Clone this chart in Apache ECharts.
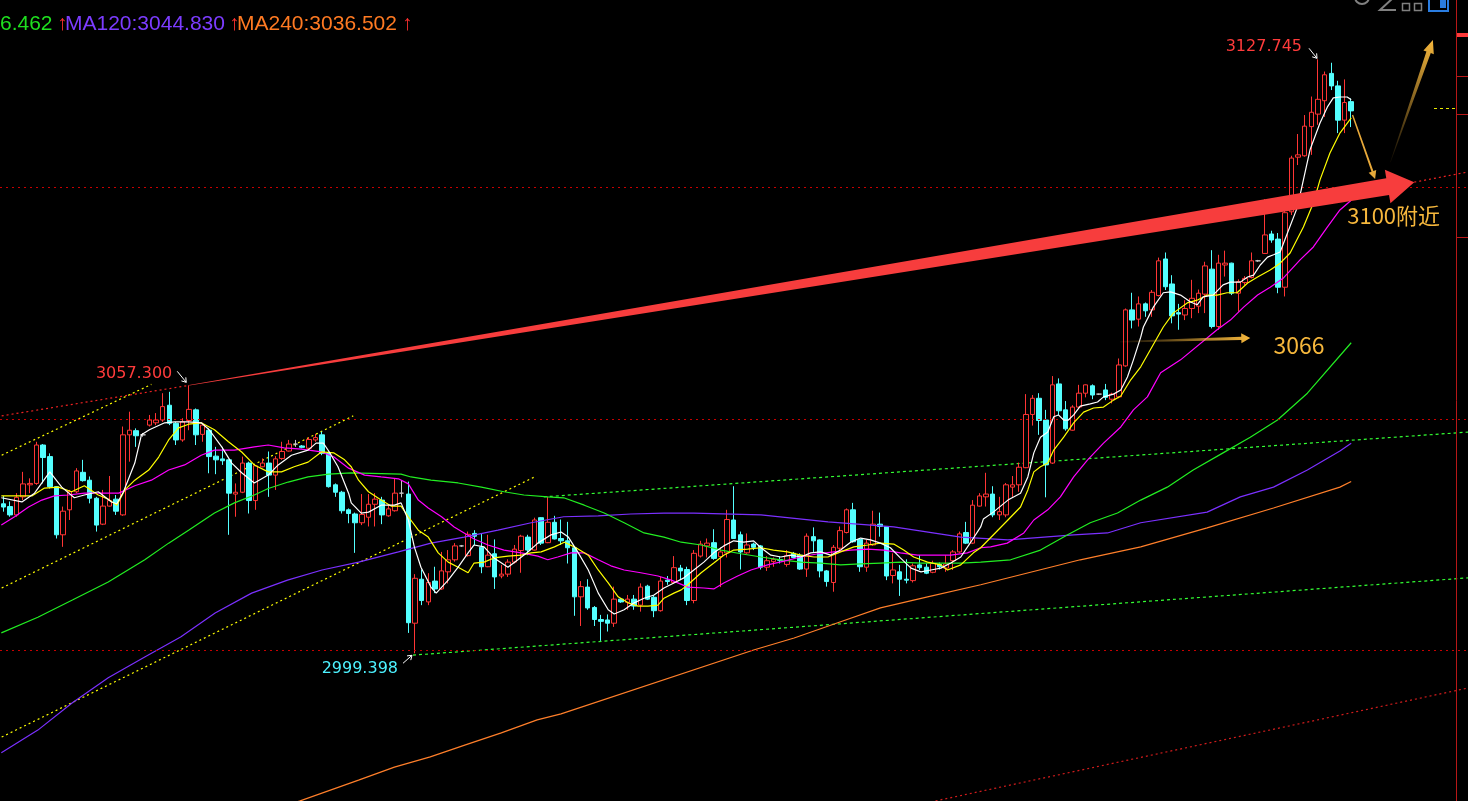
<!DOCTYPE html>
<html><head><meta charset="utf-8">
<script src="https://cdn.jsdelivr.net/npm/echarts@6/dist/echarts.min.js"></script>
<style>html,body{margin:0;padding:0;background:#000;overflow:hidden}#c{width:1468px;height:801px}</style>
</head><body><div id="c"></div>
<script>
// ---------- DATA ----------
const slotCount = 221; // candle slots on the axis (last ones empty)
const categories = Array.from({length: slotCount}, (_, k) => 'K' + (k + 1));
// [open, close, low, high]
const candles = [
[3031.7,3031.0,3030.0,3033.4],[3031.1,3029.3,3028.9,3032.2],[3029.3,3033.1,3028.9,3034.0],[3033.2,3036.0,3032.5,3038.6],[3035.8,3036.1,3034.0,3037.2],
[3036.1,3044.4,3035.8,3045.1],[3044.4,3041.7,3036.1,3044.6],[3041.9,3035.4,3035.0,3042.6],[3035.4,3025.0,3024.2,3035.5],[3025.0,3030.1,3022.4,3031.1],
[3030.4,3034.3,3028.2,3034.7],[3034.3,3038.8,3034.0,3039.4],[3038.5,3036.7,3036.5,3041.2],[3036.8,3032.9,3031.8,3037.6],[3032.9,3027.1,3025.7,3033.2],
[3027.3,3031.2,3027.1,3034.7],[3031.2,3032.4,3031.1,3037.7],[3032.7,3030.1,3029.3,3033.6],[3029.3,3046.6,3029.1,3048.4],[3046.6,3047.6,3040.8,3051.6],
[3047.5,3046.4,3044.0,3048.0],[3046.6,3046.6,3046.2,3047.0],[3048.7,3049.8,3048.4,3050.9],[3049.2,3049.8,3048.7,3051.3],[3049.8,3052.7,3049.4,3055.6],
[3053.0,3049.1,3048.7,3055.9],[3049.1,3045.5,3044.4,3049.4],[3045.5,3049.4,3045.1,3050.2],[3049.7,3052.1,3047.6,3057.3],[3052.0,3046.6,3044.4,3052.3],
[3046.7,3048.7,3045.1,3049.2],[3047.6,3041.9,3038.3,3048.0],[3042.0,3041.2,3038.1,3044.0],[3041.4,3041.0,3040.1,3044.0],[3041.2,3034.0,3025.0,3041.3],
[3033.8,3034.2,3028.9,3036.1],[3034.2,3040.5,3034.0,3041.9],[3040.5,3032.4,3029.6,3040.8],[3032.4,3039.9,3030.4,3040.1],[3039.7,3040.5,3039.6,3041.5],
[3040.5,3037.9,3033.2,3043.0],[3037.9,3041.4,3034.7,3042.0],[3041.5,3043.0,3041.2,3045.1],[3043.1,3044.6,3043.0,3045.5],[3044.6,3044.6,3044.0,3045.5],
[3044.2,3043.9,3043.7,3044.4],[3043.7,3045.6,3043.3,3046.1],[3045.5,3046.0,3045.1,3046.8],[3046.6,3042.6,3042.2,3047.3],[3042.6,3035.4,3035.2,3043.0],
[3035.8,3034.2,3033.2,3036.1],[3034.2,3030.2,3029.6,3034.5],[3030.4,3029.6,3027.5,3030.7],[3029.5,3027.6,3021.1,3029.8],[3027.6,3029.4,3027.1,3033.8],
[3028.8,3031.6,3026.8,3033.8],[3031.6,3032.7,3026.8,3034.0],[3032.5,3029.3,3027.3,3033.2],[3029.1,3030.6,3028.9,3031.4],[3030.2,3034.0,3030.0,3037.2],
[3034.0,3034.0,3033.1,3036.8],[3033.8,3006.0,3003.8,3036.5],[3005.9,3015.6,2999.398,3016.5],[3015.4,3010.8,3009.8,3017.5],[3010.5,3014.7,3009.8,3016.7],
[3015.0,3013.3,3012.4,3018.1],[3013.3,3017.2,3013.1,3021.3],[3017.0,3019.6,3014.5,3021.7],[3019.6,3022.6,3019.2,3023.2],[3022.6,3022.6,3022.4,3022.8],
[3020.5,3025.1,3020.3,3025.7],[3025.3,3024.7,3022.8,3026.0],[3022.3,3018.1,3016.7,3025.2],[3018.1,3020.6,3018.0,3025.0],[3020.9,3015.9,3013.3,3024.0],
[3016.1,3016.5,3015.6,3018.5],[3016.5,3019.1,3015.9,3019.7],[3019.1,3021.9,3018.8,3022.8],[3021.6,3024.7,3016.8,3025.0],[3024.5,3021.7,3020.6,3025.0],
[3021.7,3028.2,3021.6,3028.7],[3028.7,3023.2,3022.8,3028.8],[3023.3,3027.7,3023.2,3033.2],[3027.7,3024.1,3024.0,3029.1],[3024.2,3023.7,3022.8,3028.3],
[3023.7,3022.2,3018.8,3027.8],[3022.2,3011.6,3007.5,3022.4],[3011.6,3013.8,3005.3,3015.0],[3013.7,3009.2,3008.8,3015.4],[3009.3,3006.7,3005.3,3009.6],
[3006.7,3006.3,3002.1,3007.7],[3006.6,3005.9,3004.1,3007.8],[3005.9,3011.1,3005.1,3013.8],[3011.1,3010.5,3010.3,3011.3],[3010.4,3011.1,3008.8,3012.0],
[3011.1,3009.6,3008.8,3012.0],[3009.8,3013.7,3008.4,3014.5],[3013.9,3011.1,3010.9,3014.2],[3011.5,3008.6,3007.2,3012.0],[3008.6,3015.0,3008.4,3015.9],
[3015.2,3014.9,3014.2,3016.1],[3014.7,3017.9,3014.5,3020.4],[3017.8,3017.2,3015.2,3018.5],[3017.5,3010.8,3009.8,3018.1],[3010.8,3021.0,3010.2,3021.7],
[3020.4,3023.0,3020.1,3023.7],[3022.6,3023.2,3020.1,3024.2],[3023.3,3019.9,3019.6,3026.2],[3020.3,3021.3,3013.7,3022.3],[3021.1,3028.3,3020.1,3030.4],
[3028.2,3024.2,3024.1,3035.5],[3025.0,3021.3,3017.5,3025.7],[3021.1,3022.8,3020.9,3025.3],[3023.0,3022.3,3021.7,3023.3],[3022.6,3018.0,3017.5,3022.8],
[3018.0,3019.4,3017.2,3020.4],[3019.2,3019.7,3018.1,3020.1],[3019.6,3019.5,3018.8,3020.3],[3018.6,3020.5,3018.1,3021.7],[3021.0,3020.1,3019.9,3021.3],
[3020.6,3017.6,3017.4,3021.0],[3017.6,3024.7,3015.9,3025.3],[3024.6,3023.7,3021.3,3026.6],[3023.9,3017.2,3015.8,3024.0],[3017.2,3014.9,3013.8,3017.4],
[3014.7,3022.3,3012.7,3022.8],[3022.1,3025.9,3021.7,3026.8],[3025.5,3030.4,3025.3,3030.7],[3030.4,3023.5,3023.3,3031.9],[3024.0,3018.1,3017.0,3024.2],
[3018.0,3023.2,3017.0,3023.9],[3022.8,3027.3,3022.6,3030.2],[3027.3,3026.8,3024.6,3029.8],[3026.8,3016.1,3015.2,3026.9],[3016.2,3017.4,3014.5,3021.0],
[3017.0,3015.4,3011.8,3018.5],[3015.4,3015.2,3014.5,3019.7],[3015.1,3018.3,3014.7,3018.8],[3018.5,3017.9,3017.4,3020.6],[3018.0,3016.7,3016.5,3018.8],
[3016.9,3018.8,3016.7,3019.4],[3018.6,3018.1,3017.5,3019.0],[3017.8,3018.7,3017.0,3020.6],[3019.4,3021.3,3017.4,3021.7],[3021.3,3025.2,3021.1,3025.7],
[3025.5,3023.2,3023.0,3027.8],[3023.2,3031.4,3023.0,3032.5],[3031.2,3033.4,3031.1,3034.0],[3033.2,3033.8,3031.1,3038.4],[3033.8,3029.3,3028.8,3035.5],
[3029.3,3030.0,3028.2,3033.2],[3029.3,3035.8,3028.8,3036.2],[3035.3,3035.8,3033.2,3037.7],[3035.8,3039.6,3034.3,3040.6],[3039.5,3051.0,3039.4,3055.4],
[3051.0,3054.5,3048.6,3055.2],[3054.5,3049.7,3046.6,3055.6],[3049.8,3040.1,3033.1,3052.0],[3040.5,3057.4,3040.3,3059.3],[3057.6,3051.8,3050.9,3058.8],
[3052.0,3047.9,3047.5,3053.9],[3047.6,3052.6,3047.5,3053.0],[3052.6,3055.6,3052.3,3057.4],[3055.6,3057.4,3054.7,3057.5],[3057.2,3055.2,3054.3,3057.5],
[3055.4,3055.4,3055.2,3055.5],[3056.3,3054.7,3054.1,3057.6],[3054.3,3055.4,3053.4,3055.7],[3054.8,3061.7,3054.5,3063.1],[3061.5,3073.6,3061.3,3073.9],
[3073.6,3071.4,3069.6,3077.3],[3071.6,3074.9,3070.0,3076.5],[3074.9,3073.4,3072.1,3075.2],[3073.6,3077.4,3072.1,3077.9],[3076.7,3084.2,3076.5,3084.9],
[3084.6,3078.6,3077.9,3086.0],[3079.2,3072.3,3070.7,3081.1],[3073.0,3072.7,3069.3,3074.9],[3072.5,3073.9,3071.4,3075.7],[3073.9,3076.1,3071.8,3080.1],
[3074.4,3077.2,3072.9,3078.0],[3077.0,3083.1,3072.9,3084.0],[3082.4,3070.0,3069.6,3086.5],[3070.0,3083.7,3069.3,3085.5],[3083.3,3083.7,3080.8,3086.4],
[3083.7,3077.2,3076.8,3083.8],[3077.2,3079.7,3073.2,3080.2],[3079.5,3080.4,3079.0,3080.9],[3080.6,3084.2,3080.4,3086.0],[3084.2,3084.2,3084.0,3084.4],
[3085.8,3089.8,3085.7,3097.5],[3090.0,3088.7,3088.1,3090.7],[3088.9,3078.5,3077.2,3090.2],[3078.5,3094.6,3076.5,3097.3],[3094.8,3106.4,3094.1,3106.9],
[3106.6,3107.1,3104.9,3111.6],[3106.9,3113.3,3106.7,3115.7],[3113.2,3116.3,3107.1,3119.7],[3115.9,3119.1,3113.6,3127.745],[3118.8,3124.4,3115.3,3125.1],
[3124.7,3122.0,3121.1,3127.0],[3122.0,3114.6,3111.8,3123.1],[3114.6,3118.4,3111.8,3123.4],[3118.6,3116.6,3113.1,3119.3]
];
// moving-average lines: [slot index, value]
const ma5 = [[-0.3,3033.0],[2.8,3032.1],[4.7,3034.0],[7.0,3038.6],[8.8,3035.3],[10.7,3033.0],[12.2,3033.6],[14.3,3034.3],[16.3,3032.1],[17.1,3031.7],[18.1,3034.3],[19.8,3040.5],[20.8,3046.6],[22.0,3047.7],[24.3,3049.2],[25.8,3049.4],[27.9,3049.4],[29.8,3049.2],[31.0,3047.7],[32.9,3044.0],[34.4,3040.5],[35.9,3038.4],[37.8,3036.2],[39.9,3037.9],[41.4,3040.1],[43.4,3042.2],[45.9,3043.3],[47.1,3044.8],[48.2,3044.8],[49.1,3042.9],[50.4,3039.7],[52.0,3034.0],[52.4,3031.9],[53.9,3029.7],[55.0,3029.9],[56.9,3031.4],[58.9,3031.4],[59.9,3031.9],[61.0,3028.2],[61.9,3022.4],[62.9,3018.0],[64.4,3013.7],[65.2,3012.4],[67.0,3015.2],[68.5,3018.0],[70.0,3021.1],[70.9,3022.8],[72.4,3022.4],[73.9,3020.0],[76.0,3018.0],[77.5,3019.6],[79.0,3021.3],[80.5,3023.2],[82.5,3025.0],[84.0,3025.6],[85.1,3024.5],[86.6,3021.1],[88.1,3017.4],[89.6,3012.4],[91.1,3008.8],[92.0,3007.9],[93.5,3008.8],[95.0,3010.3],[96.5,3011.3],[98.0,3012.0],[99.5,3013.5],[101.0,3014.6],[102.5,3015.7],[104.0,3017.4],[105.5,3019.1],[107.0,3021.1],[108.5,3022.6],[110.0,3023.7],[111.5,3023.4],[113.0,3023.7],[114.1,3022.2],[115.6,3020.6],[117.1,3020.2],[118.6,3020.6],[120.1,3020.2],[121.6,3021.1],[123.1,3021.3],[124.6,3020.6],[126.1,3021.7],[127.6,3023.4],[129.1,3024.3],[130.6,3023.9],[132.1,3023.2],[133.6,3022.2],[135.1,3020.0],[136.7,3017.8],[138.2,3017.0],[139.7,3017.4],[141.2,3017.8],[142.7,3018.9],[144.2,3020.2],[145.7,3023.4],[147.2,3026.7],[147.6,3028.4],[149.1,3029.9],[151.3,3032.5],[153.2,3034.0],[154.3,3037.5],[155.2,3042.7],[156.2,3046.1],[157.3,3047.2],[158.2,3050.5],[158.9,3050.9],[159.7,3049.8],[160.4,3049.8],[161.2,3050.9],[162.2,3052.8],[163.7,3053.3],[164.8,3053.7],[165.7,3054.8],[167.2,3055.4],[168.3,3056.3],[169.3,3059.1],[170.2,3062.8],[171.3,3067.7],[171.7,3069.9],[173.2,3074.2],[174.7,3077.3],[175.8,3077.5],[177.3,3076.8],[178.8,3075.3],[179.8,3074.7],[180.7,3076.4],[182.2,3076.8],[183.7,3079.0],[184.8,3079.6],[186.3,3079.6],[187.4,3080.7],[188.3,3081.1],[189.3,3083.3],[190.4,3085.0],[191.3,3085.5],[192.3,3086.1],[193.4,3090.2],[194.9,3095.8],[195.8,3101.7],[196.8,3108.2],[198.3,3114.0],[199.4,3117.4],[200.3,3119.4],[201.3,3119.6],[202.4,3119.6],[203.0,3119.0]];
const ma10 = [[-0.3,3033.4],[4.3,3033.4],[6.2,3035.1],[8.3,3035.3],[10.3,3034.3],[12.2,3035.6],[14.3,3033.6],[15.8,3032.7],[17.1,3031.4],[18.3,3034.7],[19.8,3036.8],[21.9,3039.0],[23.4,3041.8],[24.9,3045.5],[26.4,3048.1],[27.9,3048.9],[29.8,3049.2],[31.8,3047.7],[33.9,3045.1],[35.9,3042.9],[37.8,3040.1],[39.9,3038.6],[41.9,3038.6],[43.8,3039.7],[45.9,3040.7],[47.9,3042.9],[49.8,3042.7],[51.4,3041.2],[52.4,3039.7],[53.5,3036.8],[55.0,3034.3],[56.9,3032.5],[58.4,3031.2],[59.9,3031.2],[61.0,3028.9],[62.5,3026.0],[64.0,3024.5],[65.5,3021.1],[67.0,3019.1],[68.5,3018.0],[70.0,3016.8],[70.9,3018.9],[72.4,3019.1],[73.9,3020.0],[76.0,3020.4],[78.0,3020.6],[79.5,3021.1],[81.0,3021.3],[83.0,3022.4],[84.5,3023.4],[86.0,3022.4],[88.1,3020.6],[89.6,3017.4],[91.1,3014.6],[92.6,3011.6],[94.1,3010.3],[95.6,3009.6],[97.1,3009.6],[98.6,3009.8],[99.5,3011.3],[101.0,3012.4],[102.1,3013.1],[103.1,3014.2],[105.1,3016.8],[107.0,3018.9],[108.5,3020.6],[110.0,3021.7],[112.1,3021.9],[114.1,3022.2],[116.0,3021.7],[118.1,3021.3],[120.1,3020.6],[122.1,3020.2],[124.2,3020.2],[126.1,3021.3],[128.1,3022.4],[130.2,3022.8],[132.1,3023.2],[134.1,3023.0],[135.6,3021.7],[137.1,3020.2],[139.2,3019.1],[141.2,3018.5],[142.2,3017.4],[144.2,3018.5],[146.1,3021.1],[147.2,3022.2],[151.3,3028.2],[153.2,3031.0],[154.3,3034.7],[155.2,3038.6],[156.2,3039.7],[157.3,3040.5],[158.2,3043.3],[159.7,3046.1],[161.2,3049.2],[162.7,3051.5],[164.2,3052.4],[165.7,3052.6],[167.2,3054.1],[168.3,3055.0],[169.8,3058.5],[171.3,3061.3],[174.7,3069.9],[176.2,3072.9],[178.3,3075.1],[179.8,3075.7],[181.3,3076.8],[182.8,3076.8],[184.3,3077.3],[185.8,3077.3],[187.4,3079.4],[188.9,3080.7],[190.8,3082.2],[192.3,3083.7],[193.8,3085.9],[195.8,3091.5],[197.3,3096.7],[198.3,3101.7],[199.8,3107.5],[201.3,3111.8],[203.0,3115.1]];
const ma20 = [[-0.3,3027.1],[1.7,3028.9],[3.8,3031.0],[5.8,3032.5],[7.7,3033.4],[9.8,3033.6],[12.2,3034.0],[14.8,3034.0],[17.4,3034.0],[19.8,3035.6],[22.3,3036.8],[24.9,3039.0],[27.3,3040.1],[29.8,3042.2],[31.8,3043.3],[34.8,3043.3],[37.8,3044.0],[39.9,3044.4],[42.3,3043.8],[44.9,3043.5],[47.9,3042.9],[49.8,3041.8],[52.0,3039.4],[54.4,3037.9],[56.9,3037.5],[59.5,3037.1],[61.0,3036.0],[62.5,3032.5],[64.0,3030.8],[66.0,3028.9],[67.9,3026.7],[69.4,3025.4],[70.9,3024.1],[73.0,3022.8],[75.4,3021.7],[78.0,3021.1],[80.5,3020.4],[82.0,3019.6],[83.5,3020.2],[85.5,3021.1],[87.5,3021.1],[89.6,3019.6],[91.5,3018.3],[93.5,3017.4],[96.0,3016.8],[98.6,3016.1],[100.6,3015.2],[103.1,3013.7],[105.5,3013.5],[107.0,3013.3],[108.5,3014.6],[110.6,3016.1],[112.6,3017.4],[115.1,3018.5],[117.6,3019.3],[120.1,3020.2],[122.7,3020.9],[125.1,3021.3],[127.6,3021.7],[130.2,3021.9],[132.6,3021.7],[135.1,3021.1],[137.7,3020.6],[140.1,3020.6],[142.7,3020.6],[145.2,3021.1],[147.2,3022.2],[148.7,3022.4],[151.2,3023.2],[153.7,3025.4],[155.2,3028.2],[157.3,3030.4],[159.2,3033.2],[161.2,3037.5],[163.3,3041.2],[165.7,3044.8],[168.3,3048.3],[170.2,3052.0],[172.3,3054.8],[174.3,3060.0],[177.3,3062.8],[182.8,3069.3],[184.8,3071.4],[186.8,3074.2],[188.9,3076.8],[190.8,3078.5],[192.8,3080.5],[195.3,3084.4],[197.3,3087.2],[199.4,3091.5],[201.3,3095.2],[203.0,3097.3]];
const ma60 = [[-0.3,3003.8],[5.2,3007.2],[10.4,3010.9],[15.8,3014.8],[21.3,3019.6],[24.9,3023.2],[27.9,3026.0],[31.8,3029.7],[34.8,3031.9],[37.8,3033.6],[39.9,3035.0],[42.9,3036.4],[45.9,3037.5],[49.0,3038.1],[52.4,3038.4],[59.9,3038.1],[61.4,3037.5],[64.4,3036.8],[68.5,3036.2],[72.0,3035.3],[75.4,3034.3],[78.4,3033.6],[82.0,3033.2],[84.4,3033.0],[87.5,3031.4],[90.5,3029.7],[93.5,3027.6],[96.5,3025.4],[99.5,3024.5],[102.1,3023.4],[105.1,3022.8],[108.1,3021.7],[111.1,3020.9],[114.1,3020.2],[117.1,3019.6],[120.1,3019.1],[123.1,3018.9],[126.1,3018.5],[129.1,3018.7],[132.1,3018.9],[135.1,3019.1],[138.2,3018.9],[141.2,3018.9],[144.2,3018.9],[147.2,3019.1],[151.7,3019.6],[156.2,3021.7],[160.3,3025.0],[163.7,3027.6],[167.8,3029.7],[171.3,3032.5],[175.3,3035.3],[179.2,3039.0],[183.7,3042.7],[187.8,3046.1],[191.9,3049.8],[196.4,3055.6],[203.0,3066.5]];
const ma120 = [[-0.3,2977.9],[5.2,2982.8],[10.4,2988.7],[15.8,2994.1],[21.3,2998.6],[26.7,3002.9],[31.9,3008.1],[37.4,3012.4],[42.8,3015.2],[48.0,3017.4],[53.5,3019.1],[59.5,3021.3],[64.4,3023.2],[69.4,3024.5],[74.5,3026.0],[79.5,3027.6],[84.4,3028.9],[89.6,3029.1],[94.5,3029.5],[99.5,3029.7],[104.0,3029.7],[114.1,3029.3],[124.2,3027.8],[134.1,3026.7],[144.2,3024.5],[151.3,3023.9],[161.2,3025.0],[166.3,3025.4],[171.3,3027.6],[181.3,3029.9],[186.3,3033.2],[191.3,3035.3],[196.4,3039.0],[201.3,3043.1],[203.0,3044.8]];
const ma240 = [[41.9,2966.2],[44.7,2967.5],[53.5,2972.0],[58.9,2974.8],[64.3,2977.0],[69.6,2979.6],[75.0,2982.2],[80.4,2985.0],[84.0,2986.3],[113.0,3000.1],[119.1,3002.7],[126.1,3006.2],[132.1,3009.2],[139.2,3011.6],[147.2,3014.2],[162.2,3019.6],[171.3,3022.4],[181.3,3026.5],[191.3,3030.8],[201.3,3035.3],[203.0,3036.5]];
// hand-drawn trend lines: [slot, value] endpoints
const redTrendLeft = [[-0.25,3050.7],[28,3057.3]];
const redTrendRight = [[212.5,3101.2],[220.6,3103.4]];
const redTrendLow = [[140.4,2967.5],[220.6,2991.9]];
const yellowTrendA = [[-0.25,3042.2],[22.3,3057.5]];
const yellowTrendB = [[-0.25,3013.5],[52.7,3050.7]];
const yellowTrendC = [[-0.25,2981.3],[80.0,3037.5]];
const greenTrendA = [[81.4,3033.2],[220.6,3047.2]];
const greenTrendB = [[61.7,2999.0],[220.6,3015.7]];
const levelLines = [3000, 3050, 3100];
const bigArrow = [[28,3057.3],[212.5,3101.2]];
const goldArrowSide = [[168.2,3066.7],[187.8,3067.5]];
const goldArrowDown = [[203.2,3115.7],[206.6,3101.9]];
const goldArrowUp = [[208.9,3105.5],[215.3,3131.9]];
const highPoint = [198, 3127.745];
const midHighPoint = [28, 3057.3];
const lowPoint = [62, 2999.398];
const legendItems = [
  {text:'6.462', color:'#1fe01f'}, {text:'↑', color:'#ff3030'},
  {text:'MA120:3044.830', color:'#7c3cff'}, {text:'↑', color:'#ff3030'},
  {text:'MA240:3036.502', color:'#ff7a22'}, {text:'↑', color:'#ff3030'}
];

// ---------- CHART ----------
const chart = echarts.init(document.getElementById('c'), null, {renderer:'canvas', width:1468, height:801});
function lineSeries(data, color, width, type, z) {
  return {type:'line', xAxisIndex:1, yAxisIndex:0, data:data, showSymbol:false, symbol:'none', silent:true,
    lineStyle:{color:color, width:width, type:type || 'solid'}, z:z || 3, animation:false};
}
const option = {
  backgroundColor:'#000000',
  animation:false,
  grid:{left:-1.6, top:0, width:1469, height:801, containLabel:false},
  xAxis:[
    {type:'category', data:categories, boundaryGap:true, show:false},
    {type:'value', min:-0.5, max:slotCount - 0.5, show:false}
  ],
  yAxis:{type:'value', min:2967.48, max:3140.56, show:false},
  series:[
    lineSeries(redTrendLeft, '#ee2222', 1.2, [2,3], 1),
    lineSeries(redTrendRight, '#ee2222', 1.2, [2,3], 1),
    lineSeries(redTrendLow, '#d01c1c', 1.2, [2,3], 1),
    lineSeries(yellowTrendA, '#ffff00', 1.2, [2,3], 1),
    lineSeries(yellowTrendB, '#ffff00', 1.2, [2,3], 1),
    lineSeries(yellowTrendC, '#ffff00', 1.2, [2,3], 1),
    lineSeries(greenTrendA, '#33ff33', 1.2, [3,3], 1),
    lineSeries(greenTrendB, '#33ff33', 1.2, [3,3], 1),
    {
      type:'candlestick', xAxisIndex:0, yAxisIndex:0, data:candles, barWidth:5, z:2,
      itemStyle:{color:'#000000', color0:'#54ffff', borderColor:'#ff3535', borderColor0:'#54ffff', borderColorDoji:'#c8c8c8', borderWidth:1},
      markLine:{silent:true, symbol:['none','none'], label:{show:false}, animation:false,
        lineStyle:{color:'#c80000', width:1.2, type:[2,4]},
        data: levelLines.map(v => ({yAxis:v}))}
    },
    lineSeries(ma240, '#ff7f2a', 1.2, 'solid', 3),
    lineSeries(ma120, '#7b30ff', 1.2, 'solid', 3),
    lineSeries(ma60, '#22ee22', 1.2, 'solid', 3),
    lineSeries(ma20, '#ff00ff', 1.2, 'solid', 4),
    lineSeries(ma10, '#ffff00', 1.2, 'solid', 4),
    lineSeries(ma5, '#ffffff', 1.2, 'solid', 5)
  ]
};
chart.setOption(option);

// ---------- ANNOTATIONS (positions through the chart's own scales) ----------
function P(pt) { return chart.convertToPixel({xAxisIndex:1, yAxisIndex:0}, pt); }
function arrowPoly(a, b, tailHalf, bodyHalf, headHalf, headLen) {
  const dx = b[0]-a[0], dy = b[1]-a[1], L = Math.hypot(dx, dy);
  const ux = dx/L, uy = dy/L, nx = -uy, ny = ux;
  const bx = b[0]-ux*headLen, by = b[1]-uy*headLen;
  return [[a[0]+nx*tailHalf, a[1]+ny*tailHalf],[bx+nx*bodyHalf, by+ny*bodyHalf],[bx+nx*headHalf, by+ny*headHalf],
          [b[0], b[1]],[bx-nx*headHalf, by-ny*headHalf],[bx-nx*bodyHalf, by-ny*bodyHalf],[a[0]-nx*tailHalf, a[1]-ny*tailHalf]];
}
function headLines(s, e, len) {
  const dx = e[0]-s[0], dy = e[1]-s[1], L = Math.hypot(dx, dy);
  const bx = -dx/L, by = -dy/L, a = 0.6;
  const r = t => [e[0] + len*(bx*Math.cos(t) - by*Math.sin(t)), e[1] + len*(bx*Math.sin(t) + by*Math.cos(t))];
  return [r(a), e, r(-a)];
}
function grad(a, b, c0, c1) {
  return {type:'linear', x:a[0], y:a[1], x2:b[0], y2:b[1], global:true, colorStops:[{offset:0, color:c0},{offset:1, color:c1}]};
}
const els = [];
// big red arrow
(function(){
  const a = P(bigArrow[0]), b = P(bigArrow[1]);
  els.push({type:'polygon', shape:{points:arrowPoly(a, b, 0.3, 8.5, 17, 27)}, style:{fill:'#f73d3d'}, z:50, silent:true});
})();
// gold arrows
(function(){
  const gold = '#f6b73c';
  let a = P(goldArrowSide[0]), b = P(goldArrowSide[1]);
  els.push({type:'polygon', shape:{points:arrowPoly(a, b, 0.8, 1.7, 5, 9)}, style:{fill:grad(a, b, 'rgba(246,183,60,0.05)', gold)}, z:50, silent:true});
  a = P(goldArrowDown[0]); b = P(goldArrowDown[1]);
  els.push({type:'polygon', shape:{points:arrowPoly(a, b, 0.7, 1.0, 4, 8)}, style:{fill:'#e8a93a'}, z:50, silent:true});
  a = P(goldArrowUp[0]); b = P(goldArrowUp[1]);
  els.push({type:'polygon', shape:{points:arrowPoly(a, b, 0.3, 2.3, 5.5, 13)}, style:{fill:grad(a, b, 'rgba(246,183,60,0.05)', gold)}, z:50, silent:true});
})();
// extreme value labels with white pointer arrows
function valueLabel(pt, text, color, tdx, tdy, s, e) {
  const p = P(pt);
  els.push({type:'text', x:p[0]+tdx, y:p[1]+tdy, z:60, silent:true,
    style:{text:text, fill:color, font:'16px "DejaVu Sans"', align:'right', verticalAlign:'middle', textAlign:'right', textVerticalAlign:'middle'}});
  const S = [p[0]+s[0], p[1]+s[1]], E = [p[0]+e[0], p[1]+e[1]];
  els.push({type:'polyline', shape:{points:[S, E]}, style:{stroke:'#ffffff', lineWidth:1, fill:null}, z:60, silent:true});
  els.push({type:'polyline', shape:{points:headLines(S, E, 5)}, style:{stroke:'#ffffff', lineWidth:1, fill:null}, z:60, silent:true});
}
valueLabel(highPoint, '3127.745', '#ff3b3b', -16, -12, [-9,-11], [-1,-1]);
valueLabel(midHighPoint, '3057.300', '#ff3b3b', -17, -11, [-12,-14], [-3,-3]);
valueLabel(lowPoint, '2999.398', '#4df2ff', -17, 16, [-12,10], [-3,2]);
// target texts
(function(){
  let p = P([202.4, 3093.9]);
  els.push({type:'text', x:p[0], y:p[1], z:60, silent:true, style:{text:'3100附近', fill:'#f6b73c', font:'22px "Noto Sans CJK SC"', align:'left', verticalAlign:'middle', textAlign:'left', textVerticalAlign:'middle'}});
  p = P([191.3, 3066.0]);
  els.push({type:'text', x:p[0], y:p[1], z:60, silent:true, style:{text:'3066', fill:'#f6b73c', font:'23px "Noto Sans CJK SC"', align:'left', verticalAlign:'middle', textAlign:'left', textVerticalAlign:'middle'}});
})();
// top legend strip
(function(){
  const xs = [0, 57, 65, 229, 237, 402];
  legendItems.forEach((it, k) => {
    els.push({type:'text', x:xs[k], y:24, z:70, silent:true,
      style:{text:it.text, fill:it.color, font:'21px "Liberation Sans"', align:'left', verticalAlign:'middle', textAlign:'left', textVerticalAlign:'middle'}});
  });
})();
// right-hand panel edge and toolbar glyphs
els.push({type:'line', shape:{x1:1456.5, y1:0, x2:1456.5, y2:801}, style:{stroke:'#b81818', lineWidth:1}, z:70, silent:true});
[76.5, 114.5, 237.5].forEach(y => els.push({type:'line', shape:{x1:1456, y1:y, x2:1468, y2:y}, style:{stroke:'#b81818', lineWidth:1}, z:70, silent:true}));
els.push({type:'rect', shape:{x:1457, y:33, width:11, height:4}, style:{fill:'#ff3b3b'}, z:70, silent:true});
els.push({type:'line', shape:{x1:1434, y1:108.5, x2:1456, y2:108.5}, style:{stroke:'#e8e800', lineWidth:1, lineDash:[3,3]}, z:70, silent:true});
els.push({type:'circle', shape:{cx:1362, cy:-3, r:7}, style:{stroke:'#808080', lineWidth:2, fill:null}, z:70, silent:true});
els.push({type:'polyline', shape:{points:[[1393,-2],[1380,10],[1396,10]]}, style:{stroke:'#808080', lineWidth:2, fill:null}, z:70, silent:true});
els.push({type:'rect', shape:{x:1402.5, y:3.5, width:7, height:7}, style:{stroke:'#808080', lineWidth:1.5, fill:null}, z:70, silent:true});
els.push({type:'rect', shape:{x:1414.5, y:3.5, width:7, height:7}, style:{stroke:'#808080', lineWidth:1.5, fill:null}, z:70, silent:true});
els.push({type:'rect', shape:{x:1429, y:-3, width:19, height:14}, style:{stroke:'#2a7de1', lineWidth:2, fill:null}, z:70, silent:true});
els.push({type:'rect', shape:{x:1440, y:-1, width:6, height:9}, style:{fill:'#2a7de1'}, z:70, silent:true});

chart.setOption({graphic:{elements:els}});
</script>
</body></html>
